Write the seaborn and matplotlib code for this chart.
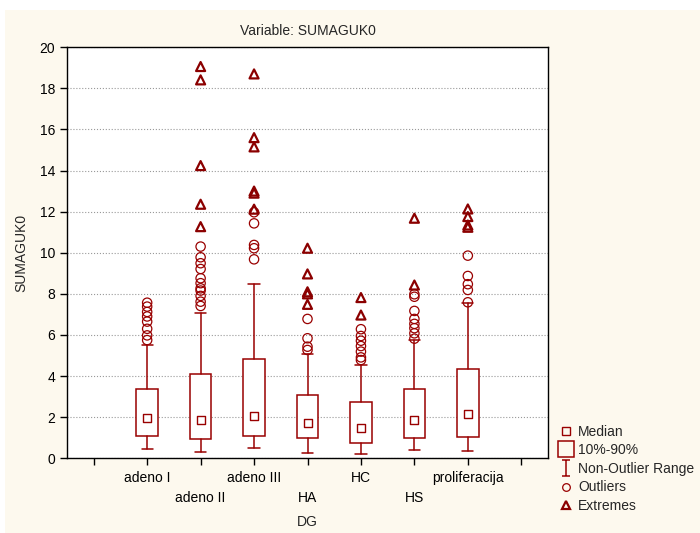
import numpy as np
import pandas as pd
import matplotlib
matplotlib.use("Agg")
import matplotlib.pyplot as plt
from matplotlib.lines import Line2D
from matplotlib.patches import Rectangle
from matplotlib.path import Path
import seaborn as sns

# --- data (summary stats per group) ---
categories = ['adeno I', 'adeno II', 'adeno III', 'HA', 'HC', 'HS', 'proliferacija']
medians = [1.96, 1.85, 2.07, 1.73, 1.46, 1.85, 2.17]
p10 = [1.10, 0.92, 1.10, 0.97, 0.74, 1.00, 1.05]
p90 = [3.35, 4.12, 4.82, 3.10, 2.72, 3.37, 4.35]
range_lo = [0.45, 0.29, 0.50, 0.27, 0.19, 0.39, 0.34]
range_hi = [5.53, 7.06, 8.50, 5.06, 4.56, 5.76, 7.54]

outliers = [
    [7.57, 7.38, 7.12, 6.90, 6.65, 6.30, 5.98, 5.75],
    [10.30, 9.78, 9.49, 9.21, 8.76, 8.52, 8.27, 8.16, 7.90, 7.62, 7.41],
    [11.97, 11.43, 10.38, 10.22, 9.68],
    [6.78, 5.84, 5.43, 5.27],
    [6.28, 5.95, 5.72, 5.46, 5.19, 4.91, 4.78],
    [7.98, 7.86, 7.17, 6.78, 6.54, 6.33, 6.08, 5.82],
    [9.86, 8.87, 8.47, 8.19, 7.59],
]
extremes = [
    [],
    [19.06, 18.41, 14.24, 12.36, 11.27],
    [18.70, 15.60, 15.15, 13.00, 12.90, 12.12],
    [10.22, 8.97, 8.10, 8.00, 7.49],
    [7.82, 6.97],
    [11.68, 8.43],
    [12.13, 11.76, 11.35, 11.24],
]

RED = '#990000'
DARK_RED = '#8b0000'
CREAM = '#fdf9ee'

positions = np.arange(1, len(categories) + 1)


def long_table(groups):
    rows = []
    for pos, vals in zip(positions, groups):
        for v in vals:
            rows.append({'pos': pos, 'value': v})
    return pd.DataFrame(rows, columns=['pos', 'value'])


df_out = long_table(outliers)
df_ext = long_table(extremes)
df_med = pd.DataFrame({'pos': positions, 'value': medians})

sns.set_style("white")
plt.rcParams['font.family'] = ['Liberation Sans', 'DejaVu Sans']

fig = plt.figure(figsize=(7, 5.33), dpi=100)
fig.patch.set_facecolor('white')
fig.patches.append(Rectangle((5 / 700, 0), 1, 1 - 10 / 533, transform=fig.transFigure,
                             facecolor=CREAM, edgecolor='none', zorder=-10))

ax = fig.add_axes([67 / 700, 1 - 458.3 / 533, (548 - 67) / 700, (458.3 - 47.2) / 533])
ax.set_facecolor('white')

stats = []
for i in range(len(categories)):
    stats.append({'med': medians[i], 'q1': p10[i], 'q3': p90[i],
                  'whislo': range_lo[i], 'whishi': range_hi[i], 'fliers': []})

ax.bxp(stats, positions=positions, widths=0.4, capwidths=0.21, showfliers=False,
       manage_ticks=False, patch_artist=True,
       boxprops=dict(facecolor='white', edgecolor=RED, linewidth=1.1),
       whiskerprops=dict(color=RED, linewidth=1.1),
       capprops=dict(color=RED, linewidth=1.1),
       medianprops=dict(linewidth=0))

sns.scatterplot(data=df_med, x='pos', y='value', marker='s', s=38, facecolor='white',
                edgecolor=RED, linewidth=1.0, ax=ax, zorder=4)
sns.scatterplot(data=df_out, x='pos', y='value', marker='o', s=45, facecolor='none',
                edgecolor=RED, linewidth=0.9, ax=ax, zorder=4)
sns.scatterplot(data=df_ext, x='pos', y='value', marker='^', s=42, facecolor='none',
                edgecolor=DARK_RED, linewidth=1.6, ax=ax, zorder=4)

ax.set_xlim(-0.5, len(categories) + 1.5)
ax.set_ylim(0, 20)
ax.set_yticks(np.arange(0, 21, 2))
ax.set_xticks(np.arange(0, len(categories) + 2))
labels = [''] + [c if i % 2 == 0 else '\n' + c for i, c in enumerate(categories)] + ['']
ax.set_xticklabels(labels, fontsize=10, linespacing=1.5)
ax.tick_params(axis='both', direction='out', length=5, width=1, colors='black',
               labelsize=10, left=True, bottom=True)
ax.tick_params(axis='x', pad=4.5)
ax.grid(axis='y', linestyle=':', color='#999999', linewidth=0.8)
ax.set_axisbelow(True)
for sp in ax.spines.values():
    sp.set_color('black')
    sp.set_linewidth(1.0)

ax.set_title('Variable: SUMAGUK0', fontsize=10, pad=9)
ax.set_xlabel('DG', fontsize=10, labelpad=7)
ax.set_ylabel('SUMAGUK0', fontsize=10, labelpad=8)

whisk = Path([(-0.5, 1), (0.5, 1), (0, 1), (0, -1), (-0.5, -1), (0.5, -1)],
             [Path.MOVETO, Path.LINETO, Path.MOVETO, Path.LINETO, Path.MOVETO, Path.LINETO])
handles = [
    Line2D([], [], marker='s', ls='none', ms=5.5, mfc='none', mec=RED, mew=1.0),
    Line2D([], [], marker='s', ls='none', ms=12, mfc='none', mec=RED, mew=1.1),
    Line2D([], [], marker=whisk, ls='none', ms=12, mfc='none', mec=RED, mew=1.1),
    Line2D([], [], marker='o', ls='none', ms=5.5, mfc='none', mec=RED, mew=0.9),
    Line2D([], [], marker='^', ls='none', ms=5.5, mfc='none', mec=DARK_RED, mew=1.6),
]
names = ['Median', '10%-90%', 'Non-Outlier Range', 'Outliers', 'Extremes']
fig.legend(handles, names, loc='upper left', bbox_to_anchor=(549 / 700, 1 - 415 / 533),
           frameon=False, fontsize=10, handlelength=1.0, handletextpad=0.4,
           labelspacing=0.33, borderpad=0.2)

fig.savefig('out.png', dpi=100, facecolor=fig.get_facecolor())
